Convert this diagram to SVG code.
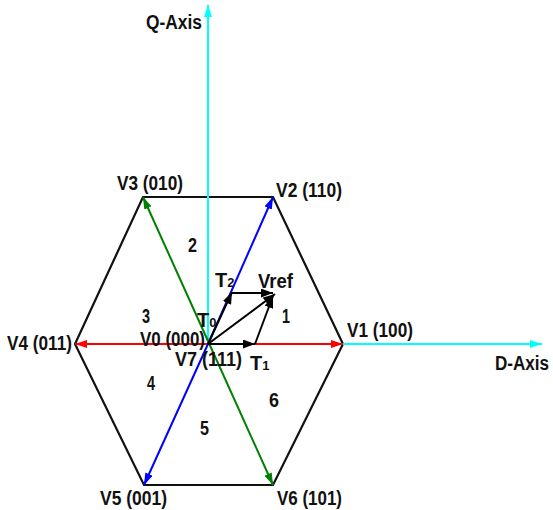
<svg xmlns="http://www.w3.org/2000/svg" width="553" height="510" viewBox="0 0 553 510">
<style>
text{font-family:"Liberation Sans",Arial,sans-serif;font-weight:bold;font-size:20px;fill:#111}
.sub{font-size:13px}
.hex{fill:none;stroke:#111;stroke-width:2.2}
.c{fill:none;stroke-width:2}
</style>
<defs>
<marker id="mb" viewBox="0 0 12 8" refX="12" refY="4" markerWidth="12" markerHeight="8" markerUnits="userSpaceOnUse" orient="auto"><path d="M0,0L12,4L0,8z" fill="#0000ff"/></marker>
<marker id="mg" viewBox="0 0 12 8" refX="12" refY="4" markerWidth="12" markerHeight="8" markerUnits="userSpaceOnUse" orient="auto"><path d="M0,0L12,4L0,8z" fill="#008000"/></marker>
<marker id="mr" viewBox="0 0 12 8" refX="12" refY="4" markerWidth="12" markerHeight="8" markerUnits="userSpaceOnUse" orient="auto"><path d="M0,0L12,4L0,8z" fill="#ff0000"/></marker>
<marker id="mc" viewBox="0 0 12 8" refX="12" refY="4" markerWidth="12" markerHeight="8" markerUnits="userSpaceOnUse" orient="auto"><path d="M0,0L12,4L0,8z" fill="#00ffff"/></marker>
<marker id="mk" viewBox="0 0 12 9" refX="12" refY="4.5" markerWidth="12" markerHeight="9" markerUnits="userSpaceOnUse" orient="auto"><path d="M0,0L12,4.5L0,9z" fill="#000"/></marker>
</defs>
<g id="hexagon">
<polygon class="hex" points="343,344 273,197 143,197 75,344 144,485 273,485"/>
</g>
<g id="connectors">
<line class="c" stroke="#00ffff" x1="208" y1="344" x2="208" y2="5" marker-end="url(#mc)"/>
<line class="c" stroke="#00ffff" x1="343" y1="344" x2="542" y2="344" marker-end="url(#mc)"/>
<line class="c" stroke="#ff0000" x1="208" y1="344" x2="343" y2="344" marker-end="url(#mr)"/>
<line class="c" stroke="#ff0000" x1="208" y1="344" x2="75" y2="344" marker-end="url(#mr)"/>
<line class="c" stroke="#0000ff" x1="208" y1="344" x2="273" y2="197" marker-end="url(#mb)"/>
<line class="c" stroke="#0000ff" x1="208" y1="344" x2="144" y2="485" marker-end="url(#mb)"/>
<line class="c" stroke="#008000" x1="208" y1="341" x2="143" y2="197" marker-end="url(#mg)"/>
<line class="c" stroke="#008000" x1="208" y1="341" x2="273" y2="485" marker-end="url(#mg)"/>
<line class="c" stroke="#000" x1="208" y1="344" x2="255" y2="344" marker-end="url(#mk)"/>
<line class="c" stroke="#000" x1="208" y1="344" x2="232" y2="292" marker-end="url(#mk)"/>
<line class="c" stroke="#000" x1="232" y1="293" x2="273" y2="293" marker-end="url(#mk)"/>
<line class="c" stroke="#000" x1="208" y1="344" x2="275" y2="294" marker-end="url(#mk)"/>
<line class="c" stroke="#000" x1="255" y1="344" x2="273" y2="296" marker-end="url(#mk)"/>
</g>
<g id="labels">
<text x="146" y="29" textLength="56" lengthAdjust="spacingAndGlyphs">Q-Axis</text>
<text x="495" y="370" font-size="18" textLength="54" lengthAdjust="spacingAndGlyphs">D-Axis</text>
<text x="117" y="190" textLength="66" lengthAdjust="spacingAndGlyphs">V3 (010)</text>
<text x="276" y="197" textLength="66" lengthAdjust="spacingAndGlyphs">V2 (110)</text>
<text x="347" y="337" textLength="66" lengthAdjust="spacingAndGlyphs">V1 (100)</text>
<text x="7" y="350" textLength="65" lengthAdjust="spacingAndGlyphs">V4 (011)</text>
<text x="140" y="346" textLength="65" lengthAdjust="spacingAndGlyphs">V0 (000)</text>
<text x="175" y="366" textLength="67" lengthAdjust="spacingAndGlyphs">V7 (111)</text>
<text x="100" y="505" textLength="67" lengthAdjust="spacingAndGlyphs">V5 (001)</text>
<text x="277" y="505" textLength="65" lengthAdjust="spacingAndGlyphs">V6 (101)</text>
<text x="258" y="288" textLength="35" lengthAdjust="spacingAndGlyphs">Vref</text>
<text x="188" y="252" textLength="9" lengthAdjust="spacingAndGlyphs">2</text>
<text x="282" y="323" textLength="8" lengthAdjust="spacingAndGlyphs">1</text>
<text x="142" y="323" textLength="8" lengthAdjust="spacingAndGlyphs">3</text>
<text x="147" y="390" textLength="8" lengthAdjust="spacingAndGlyphs">4</text>
<text x="200" y="435" textLength="9" lengthAdjust="spacingAndGlyphs">5</text>
<text x="269" y="407" textLength="10" lengthAdjust="spacingAndGlyphs">6</text>
<text x="215" y="287" font-weight="normal">T<tspan class="sub">2</tspan></text>
<text x="197" y="327" font-weight="normal">T<tspan class="sub">0</tspan></text>
<text x="250" y="370" font-weight="normal">T<tspan class="sub">1</tspan></text>
</g>
</svg>
